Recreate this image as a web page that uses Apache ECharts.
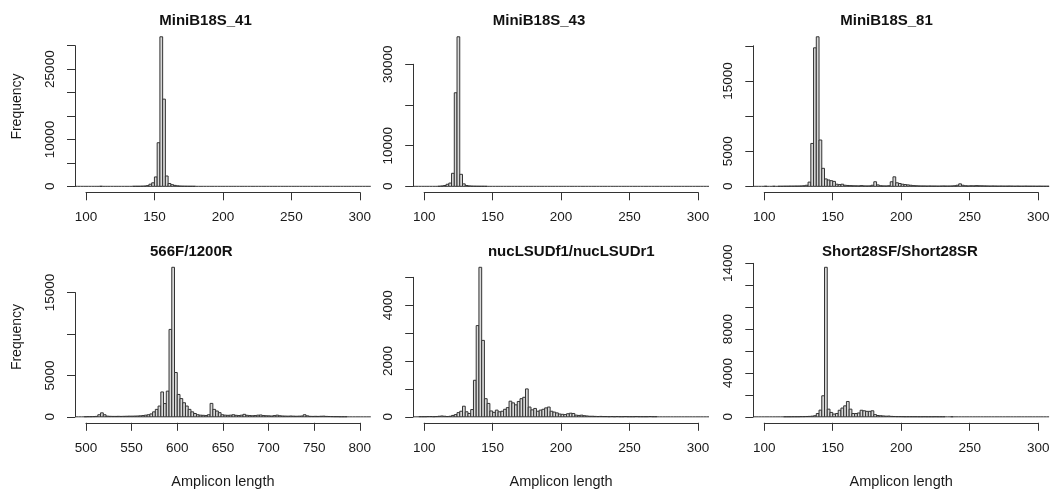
<!DOCTYPE html>
<html><head><meta charset="utf-8">
<script src="https://cdn.jsdelivr.net/npm/echarts@6/dist/echarts.min.js"></script>
<style>html,body{margin:0;padding:0;background:#fff}#c{width:1050px;height:489px}</style>
</head><body><div id="c"></div>
<script>
// ---- data ----
const titles = ['MiniB18S_41', 'MiniB18S_43', 'MiniB18S_81', '566F/1200R', 'nucLSUDf1/nucLSUDr1', 'Short28SF/Short28SR'];
const binStart = [90, 90, 90, 486, 90, 90];
const binWidth = [2, 2, 2, 3, 2, 2];

const counts1 = [
  0,0,0,0,0,0,0,0,0,0,
  5,0,0,0,0,0,0,0,0,0,
  0,0,5,10,10,30,60,150,450,750,
  2000,9300,31900,18600,2200,600,350,200,100,50,
  30,20,10,10,5,0,0,0,0,0,
  0,0,0,0,0,0,0,0,0,0,
  0,0,0,0,0,0,0,0,0,0,
  0,0,0,0,0,0,0,0,0,0,
  0,0,0,0,0,0,0,0,0,0,
  0,0,0,0,0,0,0,0,0,0,
  0,0,0,0,0,0,0,0,0,0
];
const counts2 = [
  0,0,0,0,0,0,0,0,0,0,
  20,80,200,500,800,3200,23000,36760,2950,600,
  200,100,50,30,20,10,10,5,0,0,
  0,0,0,0,0,0,0,0,0,0,
  0,0,0,0,0,0,0,0,0,0,
  0,0,0,0,0,0,0,0,0,0,
  0,0,0,0,0,0,0,0,0,0,
  0,0,0,0,0,0,0,0,0,0,
  0,0,0,0,0,0,0,0,0,0,
  0,0,0,0,0,0,0,0,0,0,
  0,0,0,0,0,0,0,0,0,0
];
const counts3 = [
  0,0,0,0,0,10,0,0,10,0,
  10,10,20,20,30,30,40,40,50,80,
  150,600,6100,19710,21280,6590,2560,1050,900,800,
  700,300,250,300,150,120,100,80,70,60,
  100,60,50,60,150,650,200,80,60,50,
  80,650,1350,500,400,300,250,200,150,100,
  80,60,50,50,40,50,40,40,30,40,
  50,40,40,50,80,150,350,150,80,60,
  80,70,100,80,70,60,50,40,50,40,
  30,40,30,30,40,30,20,30,20,20,
  30,20,20,20,10,20,10,10,10,10
];
const counts4 = [
  0,0,0,0,10,20,20,30,50,250,
  480,250,80,60,50,50,60,50,60,70,
  80,80,90,100,120,150,200,250,350,600,
  900,1300,3000,1600,3100,10550,18050,5350,2700,2200,
  1700,1300,900,600,400,250,200,180,150,250,
  1620,900,700,500,250,200,180,200,250,180,
  150,200,300,180,150,130,150,200,220,150,
  130,120,100,150,200,130,100,90,80,100,
  80,70,80,100,250,120,60,50,60,50,
  70,80,50,40,30,20,20,10,10,10,
  0,0,0,0,0,0,0,0,0
];
const counts5 = [
  0,0,0,5,5,5,10,10,5,10,
  20,30,20,10,20,50,80,150,200,380,
  180,120,260,1310,3270,5360,2740,650,480,210,
  160,240,180,200,270,330,560,500,430,550,
  650,700,1000,350,250,300,200,240,270,320,
  350,200,170,140,100,90,80,110,130,120,
  60,50,60,40,30,20,20,15,10,15,
  10,10,5,10,5,10,5,5,10,5,
  5,5,10,5,5,5,5,10,5,5,
  0,0,0,0,0,0,0,0,0,0,
  0,0,0,0,0,0,0,0,0,0
];
const counts6 = [
  0,0,0,0,0,0,0,0,0,0,
  0,0,5,5,5,10,10,10,20,20,
  30,40,60,100,300,610,1920,13640,700,400,
  250,300,600,800,1000,1400,700,300,300,350,
  600,550,500,500,550,200,120,100,80,60,
  70,40,30,20,20,15,10,10,10,10,
  10,5,5,10,5,5,5,10,5,5,
  5,0,0,5,0,0,0,0,0,0,
  0,0,0,0,0,0,0,0,0,0,
  0,0,0,0,0,0,0,0,0,0,
  0,0,0,0,0,0,0,0,0,0
];
const allCounts = [counts1, counts2, counts3, counts4, counts5, counts6];

const xRange = [[100, 300], [100, 300], [100, 300], [500, 800], [100, 300], [100, 300]];
const xTickStep = 50;
const yTickStep = [5000, 10000, 5000, 5000, 1000, 2000];
const yTickMax = [30000, 30000, 20000, 15000, 5000, 14000];
const yTickLabels = [[0, 10000, 25000], [0, 10000, 30000], [0, 5000, 15000], [0, 5000, 15000], [0, 2000, 4000], [0, 4000, 8000, 14000]];
const xTitle = 'Amplicon length';
const yTitle = 'Frequency';

// ---- layout ----
const FONT = '"Liberation Sans", Arial, Helvetica, sans-serif';
const plotLeft = [75, 413.2, 753.3];
const plotW = 295.8;
const rowTop = [30.8, 261.3];
const plotH = 161.5;
const titlePos = [[205.5, 20.7], [539, 20.7], [886.5, 20.7], [191.3, 252], [571.3, 251.7], [900, 251.7]];
const AXC = '#333';
const TXC = '#1a1a1a';

const grids = [], xAxes = [], yAxes = [], series = [], graphics = [];

function renderBar(params, api) {
  const cs = params.coordSys;
  const a = api.coord([api.value(0), 0]);
  const b = api.coord([api.value(1), api.value(2)]);
  const xl = Math.max(a[0], cs.x), xr = Math.min(b[0], cs.x + cs.width);
  if (xr <= xl) return;
  if (api.value(2) === 0) {
    return { type: 'line', shape: { x1: xl, y1: a[1], x2: xr, y2: a[1] }, style: { stroke: AXC, lineWidth: 1 } };
  }
  return { type: 'rect', shape: { x: xl, y: b[1], width: xr - xl, height: a[1] - b[1] },
    style: { fill: '#d8d8d8', stroke: AXC, lineWidth: 1 } };
}

for (let i = 0; i < 6; i++) {
  const col = i % 3, row = Math.floor(i / 3);
  const L = plotLeft[col], T = rowTop[row], W = plotW, H = plotH;
  const cnt = allCounts[i];
  const M = Math.max.apply(null, cnt);
  const x0 = xRange[i][0], x1 = xRange[i][1], xr = x1 - x0;
  const base = grids.length;

  // A: bars grid (R plot region, 4% extension)
  grids.push({ left: L, top: T, width: W, height: H, outerBoundsMode: 'none', containLabel: false });
  xAxes.push({ gridIndex: base, type: 'value', min: x0 - 0.04 * xr, max: x1 + 0.04 * xr, show: false });
  yAxes.push({ gridIndex: base, type: 'value', min: -0.04 * M, max: 1.04 * M, show: false });

  // B: x axis spanning first..last tick
  grids.push({ left: L + W * 0.04 / 1.08, top: T, width: W / 1.08, height: H, outerBoundsMode: 'none', containLabel: false });
  xAxes.push({ gridIndex: base + 1, type: 'value', min: x0, max: x1, interval: xTickStep, position: 'bottom',
    axisLine: { show: true, lineStyle: { color: AXC, width: 1 } },
    axisTick: { show: true, inside: false, length: 8, lineStyle: { color: AXC, width: 1 } },
    axisLabel: { show: true, margin: 18, fontSize: 13.5, color: TXC, fontFamily: FONT, showMinLabel: true, showMaxLabel: true },
    splitLine: { show: false } });
  yAxes.push({ gridIndex: base + 1, type: 'value', min: 0, max: 1, show: false });

  // C: y axis spanning 0..top tick
  const yTop = yTickMax[i];
  const cTop = T + H * (1.04 * M - yTop) / (1.08 * M);
  const cH = H * yTop / (1.08 * M);
  grids.push({ left: L, top: cTop, width: W, height: cH, outerBoundsMode: 'none', containLabel: false });
  xAxes.push({ gridIndex: base + 2, type: 'value', min: 0, max: 1, show: false });
  const labs = yTickLabels[i];
  yAxes.push({ gridIndex: base + 2, type: 'value', min: 0, max: yTop, interval: yTickStep[i], position: 'left',
    axisLine: { show: true, lineStyle: { color: AXC, width: 1 } },
    axisTick: { show: true, inside: false, length: 8, lineStyle: { color: AXC, width: 1 } },
    axisLabel: { show: true, rotate: 90, margin: 18, fontSize: 13.5, color: TXC, fontFamily: FONT,
      showMinLabel: true, showMaxLabel: true, hideOverlap: false,
      formatter: v => (labs.indexOf(v) >= 0 ? String(v) : '') },
    splitLine: { show: false } });

  const data = cnt.map((c, k) => [binStart[i] + k * binWidth[i], binStart[i] + (k + 1) * binWidth[i], c]);
  series.push({ type: 'custom', xAxisIndex: base, yAxisIndex: base, renderItem: renderBar,
    encode: { x: [0, 1], y: 2 }, data: data, clip: false, silent: true, animation: false });

  graphics.push({ type: 'text', x: titlePos[i][0], y: titlePos[i][1],
    style: { text: titles[i], fontSize: 15, fontWeight: 'bold', fontFamily: FONT, fill: '#111',
      textAlign: 'center', textVerticalAlign: 'middle' } });

  if (row === 1) {
    graphics.push({ type: 'text', x: L + W / 2, y: 481.5,
      style: { text: xTitle, fontSize: 14.5, fontFamily: FONT, fill: TXC, textAlign: 'center', textVerticalAlign: 'middle' } });
  }
  if (col === 0) {
    graphics.push({ type: 'text', x: 17, y: T + H / 2 - 5, rotation: Math.PI / 2,
      style: { text: yTitle, fontSize: 14, fontFamily: FONT, fill: TXC, textAlign: 'center', textVerticalAlign: 'middle' } });
  }
}

const chart = echarts.init(document.getElementById('c'), null, { renderer: 'canvas' });
chart.setOption({
  backgroundColor: '#ffffff',
  animation: false,
  grid: grids,
  xAxis: xAxes,
  yAxis: yAxes,
  series: series,
  graphic: graphics
});
</script>
</body></html>
